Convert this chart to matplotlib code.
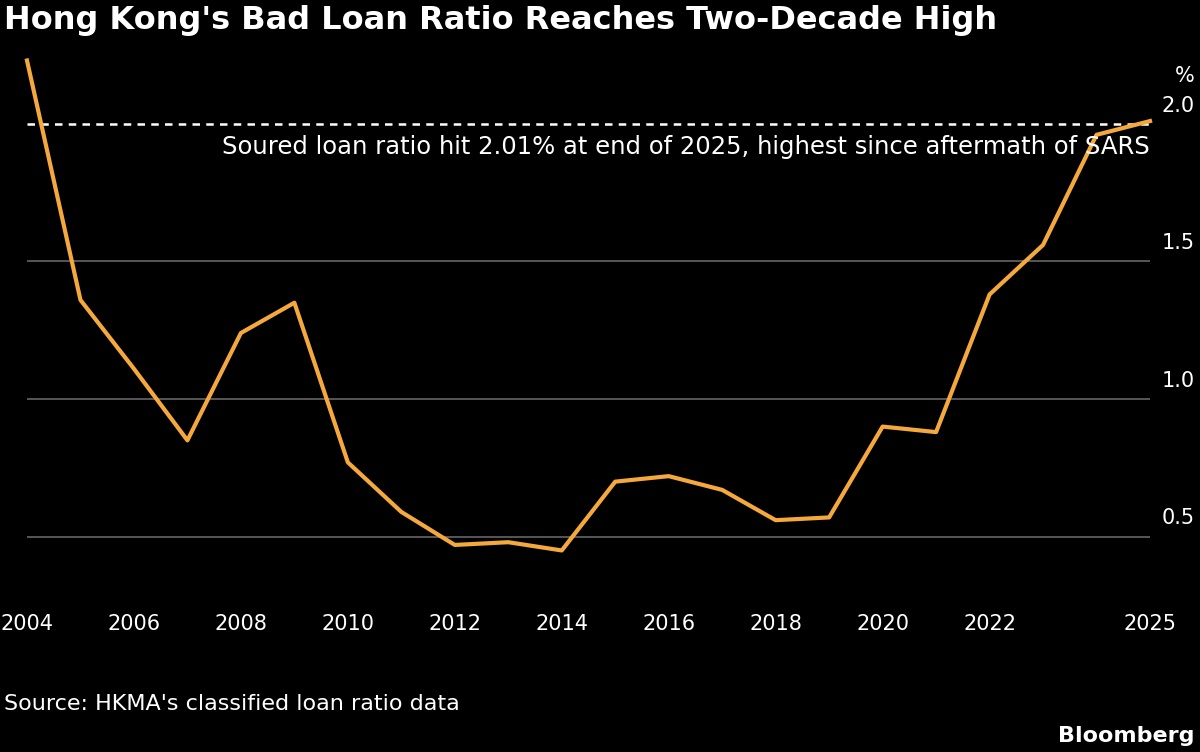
import matplotlib.pyplot as plt
import matplotlib.transforms as mtransforms

years = list(range(2004, 2026))
ratio = [2.23, 1.36, 1.11, 0.85, 1.24, 1.35, 0.77, 0.59, 0.47, 0.48, 0.45,
         0.70, 0.72, 0.67, 0.56, 0.57, 0.90, 0.88, 1.38, 1.56, 1.96, 2.01]
yticks = [0.5, 1.0, 1.5, 2.0]
xticks = [2004, 2006, 2008, 2010, 2012, 2014, 2016, 2018, 2020, 2022, 2025]

plt.rcParams['font.family'] = ['DejaVu Sans']

fig = plt.figure(figsize=(12, 7.52), dpi=100, facecolor='black')
ax = fig.add_axes([27/1200, 152/752, 1123/1200, 545/752], facecolor='black')
ax.set_xlim(2004, 2025)
ax.set_ylim(0.27, 2.25)

for v in yticks[:-1]:
    ax.axhline(v, color='#666666', lw=1.2, zorder=1)
ax.axhline(2.0, color='white', lw=1.8, ls=(0, (3, 2.5)), zorder=2)
ax.plot(years, ratio, color='#f5a83b', lw=3, zorder=3, clip_on=False)

for s in ax.spines.values():
    s.set_visible(False)
ax.set_yticks([])
ax.set_xticks(xticks)
ax.set_xticklabels([str(x) for x in xticks], color='white', fontsize=15)
ax.tick_params(axis='x', length=0, pad=10)

tr = mtransforms.blended_transform_factory(fig.transFigure, ax.transData)
for v in yticks:
    ax.text(1195/1200, v + 0.03, f"{v:.1f}", transform=tr, ha='right', va='bottom',
            color='white', fontsize=15)
fig.text(1195/1200, 1 - 76/752, "%", ha='right', va='center', color='white', fontsize=15)

ax.text(2025, 1.96, "Soured loan ratio hit 2.01% at end of 2025, highest since aftermath of SARS",
        ha='right', va='top', color='white', fontsize=17.5, zorder=4)

fig.text(4/1200, 1 - 20/752, "Hong Kong's Bad Loan Ratio Reaches Two-Decade High",
         ha='left', va='center', color='white', fontsize=23, fontweight='bold')
fig.text(4/1200, 1 - 704/752, "Source: HKMA's classified loan ratio data",
         ha='left', va='center', color='white', fontsize=16)
fig.text(1195/1200, 1 - 736/752, "Bloomberg", ha='right', va='center',
         color='white', fontsize=16, fontweight='bold')

fig.savefig('out.png', dpi=100, facecolor='black')
